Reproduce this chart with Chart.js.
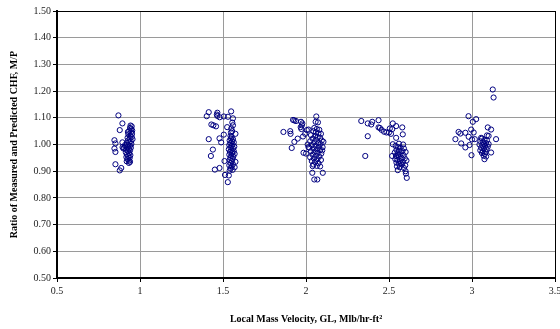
<!DOCTYPE html>
<html>
<head>
<meta charset="utf-8">
<script src="https://cdn.jsdelivr.net/npm/chart.js@4/dist/chart.umd.min.js"></script>
<style>
  html, body { margin: 0; padding: 0; background: #fff; }
  #wrap { width: 560px; height: 329px; }
</style>
</head>
<body>
<div id="wrap"><canvas id="chf"></canvas></div>
<script>
// measured points: [local mass velocity, M/P ratio]
const pointsG090 = [
  [0.870,1.109],[0.894,1.079],[0.878,1.054],[0.943,1.071],[0.846,1.016],[0.852,1.004],[0.846,0.985],
  [0.852,0.972],[0.894,1.008],[0.852,0.926],[0.887,0.912],[0.878,0.903],[0.933,0.931],[0.927,1.047],
  [0.940,1.062],[0.948,1.058],[0.935,1.050],[0.945,1.045],[0.952,1.040],[0.930,1.038],[0.942,1.032],
  [0.950,1.028],[0.925,1.025],[0.938,1.022],[0.955,1.020],[0.928,1.015],[0.944,1.012],[0.935,1.008],
  [0.920,1.005],[0.948,1.002],[0.930,0.998],[0.940,0.995],[0.912,0.993],[0.925,0.990],[0.945,0.988],
  [0.905,0.987],[0.933,0.983],[0.918,0.980],[0.940,0.978],[0.928,0.975],[0.915,0.970],[0.935,0.968],
  [0.922,0.963],[0.942,0.960],[0.930,0.957],[0.918,0.953],[0.938,0.950],[0.925,0.945],[0.935,0.940],
  [0.920,0.937],[0.940,0.935],[0.900,0.985],[0.895,0.990],[0.910,0.998],[0.950,1.068],[0.953,1.052]
];
const pointsG150 = [
  [1.414,1.121],[1.402,1.106],[1.466,1.119],[1.463,1.112],[1.466,1.107],[1.480,1.102],[1.505,1.105],
  [1.530,1.104],[1.549,1.124],[1.560,1.098],[1.430,1.075],[1.442,1.072],[1.458,1.068],[1.525,1.065],
  [1.550,1.060],[1.560,1.072],[1.556,1.082],[1.505,1.037],[1.479,1.023],[1.414,1.020],[1.489,1.008],
  [1.439,0.981],[1.427,0.957],[1.451,0.906],[1.479,0.912],[1.509,0.938],[1.512,0.886],[1.535,0.884],
  [1.529,0.859],
  [1.545,1.032],[1.552,1.028],[1.548,1.022],[1.560,1.020],[1.540,1.015],[1.555,1.012],[1.565,1.008],
  [1.545,1.005],[1.558,1.000],[1.538,0.998],[1.552,0.995],[1.568,0.992],[1.545,0.988],[1.560,0.985],
  [1.535,0.982],[1.550,0.978],[1.565,0.975],[1.542,0.972],[1.555,0.968],[1.570,0.965],[1.538,0.962],
  [1.550,0.958],[1.562,0.955],[1.545,0.950],[1.558,0.946],[1.540,0.942],[1.553,0.938],[1.575,0.935],
  [1.545,0.930],[1.560,0.926],[1.538,0.922],[1.552,0.918],[1.570,0.915],[1.545,0.910],[1.558,0.905],
  [1.540,0.902],[1.548,1.045],[1.555,1.050],[1.575,1.040]
];
const pointsG200 = [
  [1.864,1.047],[1.905,1.050],[1.907,1.040],[1.922,1.092],[1.940,1.088],[1.930,1.090],[1.970,1.085],
  [1.978,1.079],[1.975,1.072],[1.968,1.065],[1.972,1.058],[2.005,1.054],[2.015,1.056],[2.062,1.105],
  [2.072,1.083],[2.058,1.085],[1.950,1.022],[1.930,1.010],[1.914,0.987],[1.985,0.969],[2.000,0.966],
  [2.040,0.919],[2.038,0.894],[2.050,0.869],[2.068,0.869],[2.101,0.894],[1.995,1.040],[1.982,1.030],
  [2.050,1.062],[2.065,1.058],[2.080,1.055],[2.045,1.050],[2.060,1.046],[2.075,1.042],[2.090,1.040],
  [2.030,1.035],[2.055,1.032],[2.070,1.028],[2.085,1.025],[2.040,1.022],[2.060,1.018],[2.095,1.015],
  [2.025,1.012],[2.050,1.008],[2.072,1.005],[2.088,1.002],[2.035,0.998],[2.058,0.995],[2.078,0.992],
  [2.100,0.990],[2.020,0.988],[2.045,0.985],[2.065,0.982],[2.085,0.979],[2.030,0.975],[2.052,0.972],
  [2.070,0.969],[2.092,0.966],[2.040,0.962],[2.060,0.958],[2.080,0.955],[2.025,0.952],[2.048,0.948],
  [2.068,0.945],[2.090,0.942],[2.035,0.938],[2.055,0.935],[2.075,0.930],[2.045,0.925],[2.065,0.920],
  [2.085,0.918],[2.015,0.990],[2.010,1.000],[2.105,1.010],[2.098,0.978]
];
const pointsG250 = [
  [2.333,1.088],[2.372,1.079],[2.393,1.075],[2.399,1.085],[2.437,1.091],[2.372,1.031],[2.357,0.957],
  [2.437,1.064],[2.445,1.062],[2.455,1.055],[2.470,1.048],[2.485,1.045],[2.500,1.045],[2.505,1.060],
  [2.520,1.058],[2.512,1.040],[2.523,1.079],[2.543,1.069],[2.580,1.064],[2.583,1.038],[2.543,1.025],
  [2.523,1.001],[2.585,1.000],[2.560,1.003],[2.519,0.957],[2.553,0.904],[2.600,0.900],[2.602,0.891],
  [2.607,0.875],
  [2.540,0.995],[2.555,0.990],[2.570,0.988],[2.590,0.985],[2.545,0.980],[2.560,0.977],[2.580,0.975],
  [2.600,0.972],[2.535,0.970],[2.552,0.967],[2.568,0.963],[2.588,0.960],[2.542,0.957],[2.558,0.953],
  [2.575,0.950],[2.595,0.948],[2.538,0.945],[2.550,0.942],[2.565,0.938],[2.585,0.935],[2.545,0.932],
  [2.560,0.928],[2.578,0.925],[2.598,0.922],[2.548,0.918],[2.565,0.915],[2.590,0.912],[2.555,0.960],
  [2.570,0.930],[2.605,0.940]
];
const pointsG300 = [
  [3.125,1.206],[3.130,1.176],[2.979,1.106],[3.005,1.085],[3.025,1.095],[2.995,1.056],[2.919,1.047],
  [2.930,1.041],[2.960,1.044],[2.900,1.020],[2.935,1.004],[2.960,0.989],[2.985,0.998],[2.980,1.029],
  [3.017,1.020],[2.997,0.960],[3.095,1.064],[3.115,1.056],[3.100,1.032],[3.090,1.034],[3.055,1.025],
  [3.145,1.020],[3.115,0.970],[3.075,0.945],[3.010,1.045],[3.000,1.019],
  [3.060,1.022],[3.075,1.018],[3.090,1.015],[3.050,1.012],[3.068,1.008],[3.085,1.005],[3.100,1.002],
  [3.045,1.000],[3.062,0.997],[3.080,0.995],[3.095,0.992],[3.055,0.988],[3.072,0.985],[3.088,0.982],
  [3.050,0.978],[3.065,0.975],[3.082,0.972],[3.060,0.968],[3.078,0.965],[3.070,0.958],[3.085,0.955]
];

const yRange = [0.5, 1.5];
const xRange = [0.5, 3.5];
const yTitle = 'Ratio of Measured and Predicted CHF, M/P';
const xTitle = 'Local Mass Velocity, GL, Mlb/hr-ft\u00B2';

const allPoints = pointsG090.concat(pointsG150, pointsG200, pointsG250, pointsG300)
  .map(p => ({ x: p[0], y: p[1] }));

Chart.defaults.font.family = '"Liberation Serif", "Times New Roman", serif';
Chart.defaults.font.size = 10;
Chart.defaults.color = '#222';

const ctx = document.getElementById('chf');

const chfChart = new Chart(ctx, {
    type: 'scatter',
    data: {
        datasets: [{
            label: 'M/P',
            data: allPoints,
            pointStyle: 'circle',
            pointRadius: 2.6,
            pointBorderWidth: 1,
            borderColor: '#000080',
            backgroundColor: 'rgba(0,0,0,0)'
        }]
    },
    options: {
        responsive: true,
        maintainAspectRatio: false,
        animation: false,
        layout: {
            padding: { top: 11, right: 4, left: 0, bottom: 0 }
        },
        plugins: {
            legend: { display: false },
            tooltip: { enabled: false }
        },
        scales: {
            x: {
                type: 'linear',
                min: xRange[0],
                max: xRange[1],
                afterFit: (scale) => {
                    scale.height = 51;
                    scale.paddingRight = 0;
                    scale.paddingLeft = 0;
                },
                border: { color: '#000', width: 2 },
                grid: {
                    color: (c) => (c.tick && Math.abs(c.tick.value - xRange[1]) < 1e-6) ? '#000' : '#9a9a9a',
                    tickColor: '#000',
                    tickLength: 4,
                    lineWidth: 1
                },
                ticks: {
                    stepSize: 0.5,
                    padding: 3,
                    maxRotation: 0,
                    callback: (v) => String(Math.round(v * 10) / 10)
                },
                title: {
                    display: true,
                    text: xTitle,
                    font: { weight: 'bold', size: 10 },
                    color: '#000',
                    padding: { top: 0, bottom: 4 }
                }
            },
            y: {
                min: yRange[0],
                max: yRange[1],
                afterFit: (scale) => { scale.width = 57; },
                border: { color: '#000', width: 2 },
                grid: {
                    color: (c) => (c.tick && Math.abs(c.tick.value - yRange[1]) < 1e-6) ? '#000' : '#9a9a9a',
                    tickColor: '#000',
                    tickLength: 4,
                    lineWidth: 1
                },
                ticks: {
                    stepSize: 0.1,
                    padding: 2,
                    callback: (v) => v.toFixed(2)
                },
                title: {
                    display: true,
                    text: yTitle,
                    font: { weight: 'bold', size: 10 },
                    color: '#000',
                    padding: { top: 8, bottom: 0 }
                }
            }
        }
    }
});
</script>
</body>
</html>
